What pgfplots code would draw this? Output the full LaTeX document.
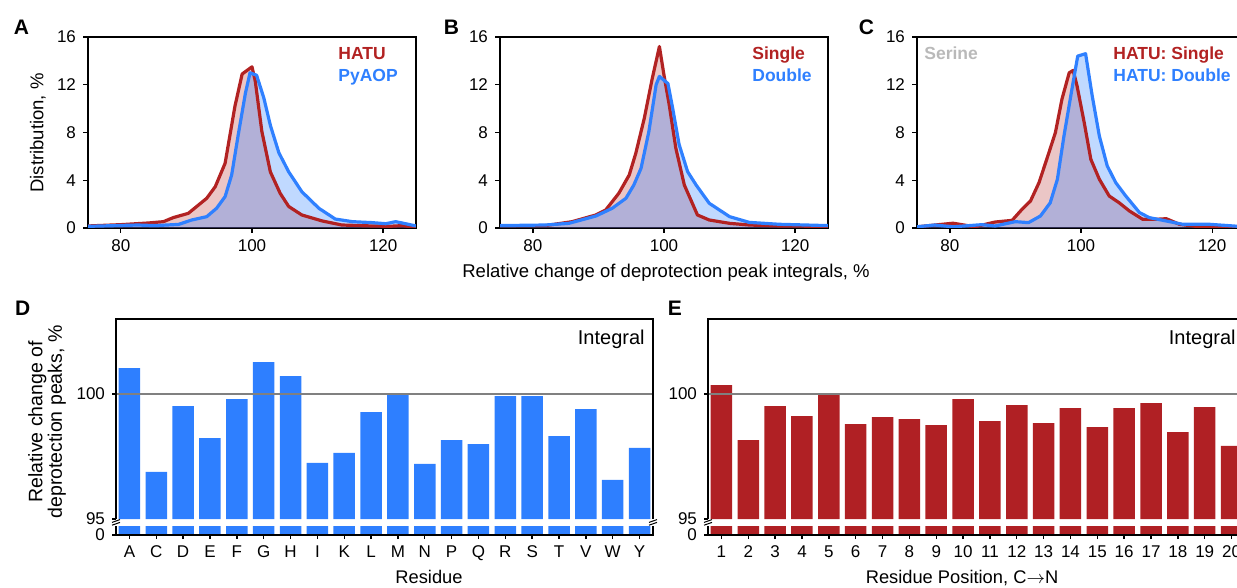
\documentclass[border=0pt]{standalone}
\usepackage{fontspec}
\setmainfont{Liberation Sans}
\usepackage{pgfplots}
\usepackage{pgfplotstable}
\pgfplotsset{compat=1.18}

\definecolor{hred}{RGB}{178,34,34}
\definecolor{hblue}{RGB}{47,128,255}
\definecolor{dblue}{RGB}{46,127,255}
\definecolor{ered}{RGB}{176,32,36}
\definecolor{sergray}{RGB}{185,185,185}

% distributions, x = relative change (%), y = distribution (%)
\pgfplotstableread{
x y
75 0.17
80 0.28
84.2 0.42
86.5 0.53
88 0.87
90.3 1.23
93.1 2.49
94.4 3.46
95.9 5.42
97.4 10.2
98.5 12.9
100 13.5
100.5 12.3
101.5 8.1
102.8 4.7
104.3 2.9
105.6 1.8
107.6 1.09
110.7 0.59
113.7 0.25
118.3 0.17
120.9 0.14
122.9 0.2
125 0.05
}\aHATU
\pgfplotstableread{
x y
75 0.14
82.6 0.25
85.2 0.2
88.8 0.3
90.8 0.67
93.1 0.95
94.6 1.65
95.9 2.63
96.9 4.44
97.9 7.8
99 11.3
99.7 13.0
100.7 12.8
101.8 10.9
102.8 8.6
104.1 6.3
105.6 4.7
107.6 3.04
110.2 1.65
112.7 0.75
115.3 0.53
118.3 0.45
120.4 0.36
121.9 0.53
123.4 0.36
125 0.17
}\aPyAOP
\pgfplotstableread{
x y
75 0.2
81.9 0.2
86 0.53
89.6 1.09
91.1 1.5
93.1 2.9
94.7 4.44
95.7 6.26
97 9.2
98.2 12.5
99.3 15.2
100 12.8
100.8 10.3
101.8 6.7
103.1 3.6
105.1 1.09
106.9 0.67
110 0.39
113 0.25
117.6 0.17
125 0.14
}\bSingle
\pgfplotstableread{
x y
75 0.2
81.9 0.25
85.5 0.39
89.6 1.0
92.1 1.65
94.2 2.49
95.4 3.6
96.5 5.0
97.7 8.1
98.8 12.0
99.3 12.7
100.6 12.1
101.3 10.1
102.3 7.0
103.6 4.72
104.9 3.6
106.9 2.07
110 0.95
113 0.47
117.6 0.31
125 0.2
}\bDouble
\pgfplotstableread{
x y
75 0.1
80.5 0.4
83.8 0.1
86.9 0.5
89.5 0.64
91 1.56
92.3 2.26
93.6 3.8
95.1 6.3
96.1 8.0
97.1 10.8
98.2 13.0
98.8 13.2
99.4 11.9
100.5 8.8
101.5 5.75
102.8 4.08
104.3 2.68
105.8 2.12
107.4 1.42
109.4 0.73
111.5 0.73
113 0.78
115 0.31
118.1 0.1
125 0.1
}\cSingle
\pgfplotstableread{
x y
75 0.1
77.7 0.25
80.5 0.1
84.9 0.28
86.9 0.17
90 0.53
92 0.45
93.8 1.0
95.3 2.1
96.4 4.08
97.4 7.7
98.7 11.9
99.5 14.4
100.7 14.6
101.7 11.1
102.8 7.7
104 5.2
105.3 3.8
106.8 2.7
108.9 1.3
110.4 0.87
113.5 0.53
115.5 0.31
119.6 0.31
125 0.1
}\cDouble

% bar panels: residue, position, value (%)
\pgfplotstableread{
pos res y
1 A 101.04
2 C 96.89
3 D 99.52
4 E 98.24
5 F 99.80
6 G 101.28
7 H 100.72
8 I 97.25
9 K 97.65
10 L 99.28
11 M 99.99
12 N 97.21
13 P 98.16
14 Q 98.00
15 R 99.92
16 S 99.92
17 T 98.32
18 V 99.40
19 W 96.57
20 Y 97.85
}\dres
\pgfplotstableread{
pos y
1 100.36
2 98.16
3 99.52
4 99.12
5 99.99
6 98.80
7 99.08
8 99.00
9 98.76
10 99.80
11 98.92
12 99.56
13 98.84
14 99.44
15 98.68
16 99.44
17 99.64
18 98.48
19 99.48
20 97.93
}\epos

\pgfplotsset{
  distax/.style={
    scale only axis, width=164pt, height=95.5pt, anchor=south west,
    xmin=75, xmax=125, ymin=0, ymax=16,
    xtick={80,100,120}, ytick={0,4,8,12,16},
    tick align=outside, major tick length=2.5pt,
    xtick pos=bottom, ytick pos=left,
    axis line style={line width=1pt},
    tick style={black, line width=0.7pt},
    ticklabel style={font=\fontsize{8.5}{10}\selectfont},
    /pgf/number format/assume math mode=true,
  },
  fillr/.style={draw=none, fill=hred, fill opacity=0.26},
  fillb/.style={draw=none, fill=hblue, fill opacity=0.30},
  liner/.style={hred, line width=1.6pt, line join=round},
  lineb/.style={hblue, line width=1.6pt, line join=round},
  barup/.style={
    scale only axis, width=268.5pt, height=100pt, anchor=south west,
    xmin=0.5, xmax=20.5, ymin=95, ymax=103,
    xtick=\empty, ytick={95,100}, ytick pos=left,
    tick align=outside, major tick length=2pt,
    axis line style={draw=none}, clip mode=individual,
    tick style={black, line width=0.7pt},
    ticklabel style={font=\fontsize{8.5}{10}\selectfont},
    /pgf/number format/assume math mode=true,
  },
  barlo/.style={
    scale only axis, width=268.5pt, height=4.5pt, anchor=south west,
    xmin=0.5, xmax=20.5, ymin=0, ymax=1,
    xtick={1,...,20}, ytick={0}, xtick pos=bottom, ytick pos=left,
    tick align=outside, major tick length=2pt,
    axis line style={draw=none}, clip mode=individual,
    tick style={black, line width=0.7pt},
    ticklabel style={font=\fontsize{8.5}{10}\selectfont},
    /pgf/number format/assume math mode=true,
  },
}

\begin{document}
\begin{tikzpicture}
% ---- A ----
\begin{axis}[distax, at={(44pt,-114pt)}]
\addplot[fillr] table {\aHATU} \closedcycle;
\addplot[fillb] table {\aPyAOP} \closedcycle;
\addplot[liner] table {\aHATU};
\addplot[lineb] table {\aPyAOP};
\end{axis}
% ---- B ----
\begin{axis}[distax, at={(250pt,-114pt)}]
\addplot[fillr] table {\bSingle} \closedcycle;
\addplot[fillb] table {\bDouble} \closedcycle;
\addplot[liner] table {\bSingle};
\addplot[lineb] table {\bDouble};
\end{axis}
% ---- C ----
\begin{axis}[distax, at={(458.5pt,-114pt)}]
\addplot[fillr] table {\cSingle} \closedcycle;
\addplot[fillb] table {\cDouble} \closedcycle;
\addplot[liner] table {\cSingle};
\addplot[lineb] table {\cDouble};
\end{axis}

% ---- D ----
\begin{axis}[barup, at={(58pt,-259.5pt)}]
\addplot[ybar, bar width=0.8, fill=dblue, draw=none] table[x=pos, y=y] {\dres};
\addplot[gray, line width=1pt] coordinates {(0.5,100) (20.5,100)};
\draw[line width=1pt] (rel axis cs:0,0) -- (rel axis cs:0,1) -- (rel axis cs:1,1) -- (rel axis cs:1,0);
\end{axis}
\begin{axis}[barlo, at={(58pt,-267.5pt)},
  xticklabels={A,C,D,E,F,G,H,I,K,L,M,N,P,Q,R,S,T,V,W,Y}]
\addplot[ybar, bar width=0.8, fill=dblue, draw=none] table[x=pos, y=y] {\dres};
\draw[line width=1pt] (rel axis cs:0,1) -- (rel axis cs:0,0) -- (rel axis cs:1,0) -- (rel axis cs:1,1);
\draw[line width=0.5pt] (rel axis cs:0,1) ++(-2pt,0.4pt) -- ++(4pt,1.4pt);
\draw[line width=0.5pt] (rel axis cs:0,1) ++(-2pt,1.8pt) -- ++(4pt,1.4pt);
\draw[line width=0.5pt] (rel axis cs:1,1) ++(-2pt,0.4pt) -- ++(4pt,1.4pt);
\draw[line width=0.5pt] (rel axis cs:1,1) ++(-2pt,1.8pt) -- ++(4pt,1.4pt);
\end{axis}

% ---- E ----
\begin{axis}[barup, at={(354pt,-259.5pt)}]
\addplot[ybar, bar width=0.8, fill=ered, draw=none] table[x=pos, y=y] {\epos};
\addplot[gray, line width=1pt] coordinates {(0.5,100) (20.5,100)};
\draw[line width=0.7pt] (rel axis cs:0,0) -- (rel axis cs:0,1) -- (rel axis cs:1,1) -- (rel axis cs:1,0);
\end{axis}
\begin{axis}[barlo, at={(354pt,-267.5pt)}]
\addplot[ybar, bar width=0.8, fill=ered, draw=none] table[x=pos, y=y] {\epos};
\draw[line width=1pt] (rel axis cs:0,1) -- (rel axis cs:0,0) -- (rel axis cs:1,0) -- (rel axis cs:1,1);
\draw[line width=0.5pt] (rel axis cs:0,1) ++(-2pt,0.4pt) -- ++(4pt,1.4pt);
\draw[line width=0.5pt] (rel axis cs:0,1) ++(-2pt,1.8pt) -- ++(4pt,1.4pt);
\end{axis}

% ---- texts ----
\begin{scope}[every node/.style={inner sep=0pt}]
\node[anchor=base west, font=\bfseries\fontsize{10.5}{12}\selectfont] at (6.7pt,-17.15pt) {A};
\node[anchor=base west, font=\bfseries\fontsize{10.5}{12}\selectfont] at (221.7pt,-17.15pt) {B};
\node[anchor=base west, font=\bfseries\fontsize{10.5}{12}\selectfont] at (429.2pt,-17.15pt) {C};
\node[anchor=base west, font=\bfseries\fontsize{10.5}{12}\selectfont] at (7.4pt,-157.5pt) {D};
\node[anchor=base west, font=\bfseries\fontsize{10.5}{12}\selectfont] at (333.7pt,-157.5pt) {E};

\begin{scope}[every node/.append style={anchor=base west, font=\bfseries\fontsize{8.75}{10}\selectfont}]
\node[text=hred] at (169pt,-29.75pt) {HATU};
\node[text=hblue] at (169pt,-40.75pt) {PyAOP};
\node[text=hred] at (376pt,-29.75pt) {Single};
\node[text=hblue] at (376pt,-40.75pt) {Double};
\node[text=hred] at (556.5pt,-29.75pt) {HATU: Single};
\node[text=hblue] at (556.5pt,-40.75pt) {HATU: Double};
\node[text=sergray] at (462pt,-29.75pt) {Serine};
\end{scope}

\node[anchor=base, rotate=90, font=\fontsize{9.25}{10}\selectfont] at (21.7pt,-66.5pt) {Distribution, \%};
\node[anchor=base, font=\fontsize{9.25}{10}\selectfont] at (333pt,-139pt) {Relative change of deprotection peak integrals, \%};
\node[rotate=90, align=center, font=\fontsize{9.75}{9.75}\selectfont] at (23.5pt,-211pt) {Relative change of\\deprotection peaks, \%};
\node[anchor=base, font=\fontsize{9.15}{10}\selectfont] at (214.5pt,-291.5pt) {Residue};
\node[anchor=base, font=\fontsize{9.15}{10}\selectfont] at (481pt,-291.5pt) {Residue Position, C$\rightarrow$N};
\node[anchor=base east, font=\fontsize{10}{11}\selectfont] at (322.5pt,-172pt) {Integral};
\node[anchor=base east, font=\fontsize{10}{11}\selectfont] at (618pt,-172pt) {Integral};
\end{scope}

\pgfresetboundingbox
\useasboundingbox (0pt,0pt) rectangle (618.5pt,-294pt);
\end{tikzpicture}
\end{document}
